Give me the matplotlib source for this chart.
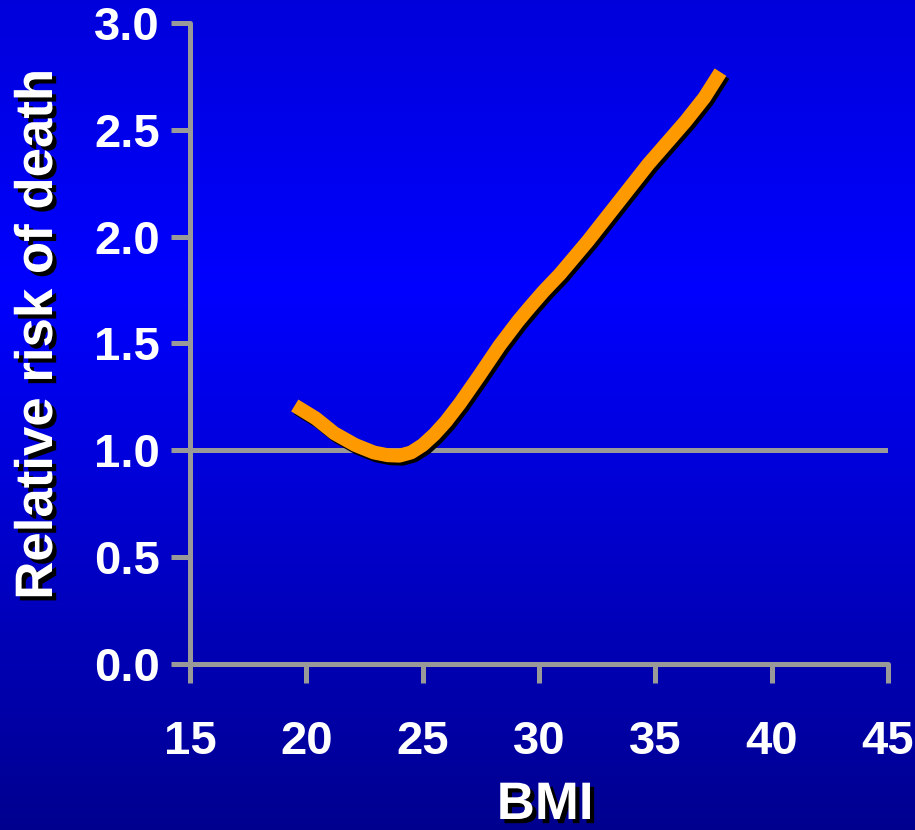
import numpy as np
import matplotlib
matplotlib.use("Agg")
import matplotlib.pyplot as plt
import matplotlib.patheffects as pe

# BMI vs relative risk of death
bmi = [19.5, 20.4, 21.2, 22.1, 22.9, 23.5, 24.0, 24.5, 25.0, 25.5, 26.0,
       26.6, 27.4, 28.3, 29.1, 29.6, 30.2, 30.9, 32.1, 33.4, 34.7, 36.3,
       37.1, 37.8]
rr = [1.21, 1.15, 1.08, 1.025, 0.99, 0.977, 0.975, 0.99, 1.025, 1.075, 1.135,
      1.22, 1.345, 1.49, 1.605, 1.67, 1.745, 1.825, 1.98, 2.16, 2.34, 2.54,
      2.65, 2.77]

xticks = [15, 20, 25, 30, 35, 40, 45]
yticks = [0.0, 0.5, 1.0, 1.5, 2.0, 2.5, 3.0]
reference_level = 1.0

plt.rcParams['font.family'] = ['Liberation Sans', 'DejaVu Sans']
plt.rcParams['font.weight'] = 'bold'

fig = plt.figure(figsize=(9.15, 8.30), dpi=100)

# blue gradient background
bg = fig.add_axes([0, 0, 1, 1], zorder=-10)
stops_y = [0.0, 0.35, 1.0]
stops_b = [0.86, 1.0, 0.56]
rows = np.linspace(0, 1, 400)
blue = np.interp(rows, stops_y, stops_b)
grad = np.zeros((400, 1, 3))
grad[:, 0, 2] = blue
bg.imshow(grad, aspect='auto', extent=[0, 1, 0, 1], origin='upper')
bg.set_axis_off()

ax = fig.add_axes([0.2077, 0.2, 0.9705 - 0.2077, 0.9723 - 0.2])
ax.patch.set_alpha(0)

grey = '#999999'
ax.axhline(reference_level, color=grey, lw=3.6, zorder=2)

shadow = [pe.SimpleLineShadow(offset=(2.2, -2.2), shadow_color='black', alpha=1.0, rho=1.0),
          pe.Normal()]
ax.plot(bmi, rr, color='#FF9900', lw=10, solid_capstyle='butt',
        solid_joinstyle='round', zorder=3, path_effects=shadow)

ax.set_xlim(15, 45)
ax.set_ylim(0, 3)
ax.set_xticks(xticks)
ax.set_yticks(yticks)
ax.set_xticklabels([str(t) for t in xticks])
ax.set_yticklabels([f"{t:.1f}" for t in yticks])

for side in ['top', 'right']:
    ax.spines[side].set_visible(False)
for side in ['left', 'bottom']:
    ax.spines[side].set_color(grey)
    ax.spines[side].set_linewidth(3.6)
    ax.spines[side].set_capstyle('round')

ax.tick_params(axis='both', colors=grey, width=3.6, length=13.5, direction='out')
ax.tick_params(axis='x', labelcolor='white', labelsize=34, pad=27)
ax.tick_params(axis='y', labelcolor='white', labelsize=34, pad=8)
for lab in ax.get_xticklabels() + ax.get_yticklabels():
    lab.set_fontweight('bold')

txt_shadow = [pe.SimplePatchShadow(offset=(3, -3), shadow_rgbFace='black', alpha=1.0),
              pe.Normal()]
fig.text(545 / 915, 1 - 805 / 830, 'BMI', color='white', fontsize=38,
         fontweight='bold', ha='center', va='center', path_effects=txt_shadow)
fig.text(38 / 915, 1 - 335 / 830, 'Relative risk of death', color='white',
         fontsize=38, fontweight='bold', rotation=90, ha='center', va='center',
         path_effects=txt_shadow)

fig.savefig('out.png', dpi=100)
